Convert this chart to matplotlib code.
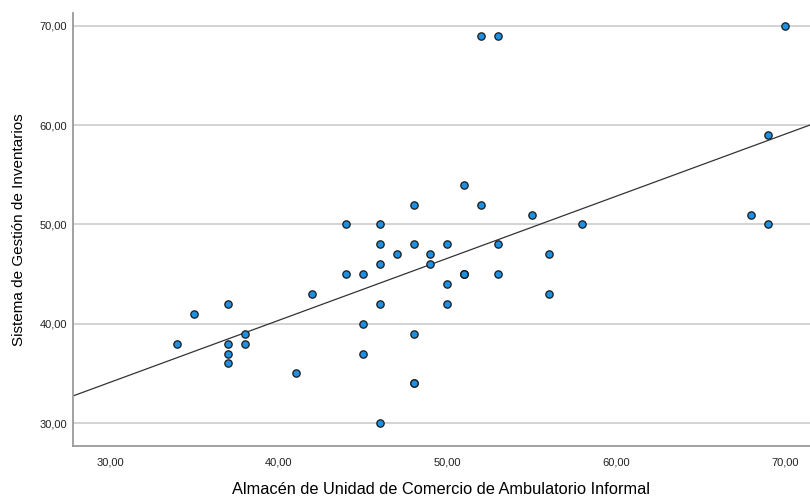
import numpy as np
import matplotlib.pyplot as plt

plt.rcParams['font.family'] = ['Liberation Sans', 'DejaVu Sans']

# Almacén (x) vs Sistema de Gestión (y)
almacen = [34, 35, 37, 37, 37, 37, 38, 38, 41, 42,
           44, 44, 45, 45, 45, 46, 46, 46, 46, 46,
           47, 48, 48, 48, 48, 49, 49, 50, 50,
           50, 51, 51, 51, 52, 52, 53, 53, 53, 55,
           56, 56, 58, 68, 69, 69, 70, 48, 51]
gestion = [38, 41, 42, 38, 37, 36, 39, 38, 35, 43,
           50, 45, 45, 40, 37, 50, 48, 46, 42, 30,
           47, 52, 48, 39, 34, 47, 46, 48, 44,
           42, 54, 45, 45, 52, 69, 69, 48, 45, 51,
           47, 43, 50, 51, 59, 50, 70, 34, 45]
# last two entries: overlapping cases (darker markers)

x_ticks = [30, 40, 50, 60, 70]
y_ticks = [30, 40, 50, 60, 70]

x = np.array(almacen, dtype=float)
y = np.array(gestion, dtype=float)

fig = plt.figure(figsize=(8.1, 5.01), dpi=100)
ax = fig.add_axes([0.090, 0.110, 0.910, 0.864])

ax.set_xlim(27.8, 71.5)
ax.set_ylim(27.7, 71.3)

ax.set_yticks(y_ticks)
ax.set_xticks(x_ticks)
ax.set_yticklabels(["{:.2f}".format(v).replace(".", ",") for v in y_ticks])
ax.set_xticklabels(["{:.2f}".format(v).replace(".", ",") for v in x_ticks])
ax.yaxis.grid(True, color="#cccccc", linewidth=1.2)
ax.set_axisbelow(True)

# fit line
b, a = np.polyfit(x, y, 1)
xs = np.array(ax.get_xlim())
ax.plot(xs, a + b * xs, color="#333333", linewidth=0.9, zorder=2)

ax.scatter(x, y, s=28, color="#1e8fe1", edgecolor="#1a1a1a", linewidth=0.9, zorder=3)

for s in ["top", "right"]:
    ax.spines[s].set_visible(False)
for s in ["left", "bottom"]:
    ax.spines[s].set_color("#9a9a9a")
    ax.spines[s].set_linewidth(1.3)

ax.tick_params(length=0, labelsize=8, colors="#222222")
ax.tick_params(axis="x", pad=8)
ax.tick_params(axis="y", pad=4)

ax.set_xlabel("Almacén de Unidad de Comercio de Ambulatorio Informal", fontsize=11.8, labelpad=11)
ax.set_ylabel("Sistema de Gestión de Inventarios", fontsize=11, labelpad=10)

fig.savefig("out.png", dpi=100)
